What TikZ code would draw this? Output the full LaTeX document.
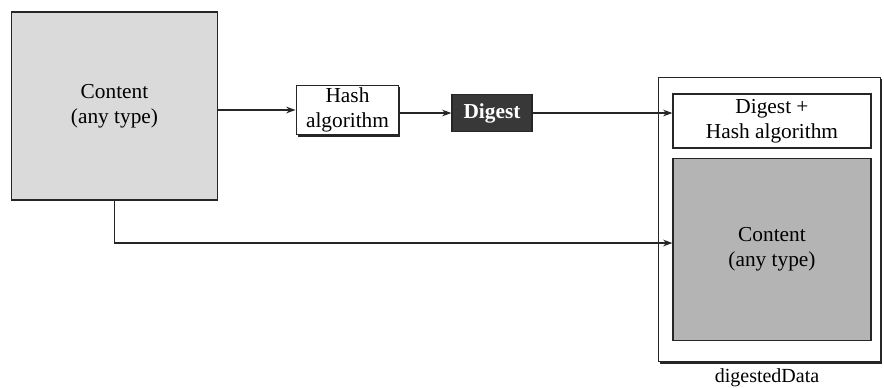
\documentclass[tikz,border=0pt]{standalone}
\usepackage{fontspec}
\setmainfont{Liberation Serif}
\usetikzlibrary{arrows.meta}
\definecolor{lightfill}{HTML}{DADADA}
\definecolor{darkfill}{HTML}{B4B4B4}
\definecolor{digestfill}{HTML}{383838}
\begin{document}
\begin{tikzpicture}[x=0.75pt,y=-0.75pt,
  box/.style={draw=black!85, line width=0.9pt, align=center, inner sep=0pt, font=\fontsize{16}{19}\selectfont},
  conn/.style={draw=black!85, line width=0.9pt, -{Stealth[length=7pt,width=5pt]}},
  shadowed/.style={preaction={fill=black!85, transform canvas={xshift=1.2pt,yshift=-1.5pt}}}]
\useasboundingbox (0,0) rectangle (884,387);
\node[box, fill=lightfill, minimum width=154pt, minimum height=141pt] (content) at (114.5,106) {Content\\(any type)};
\node[box, fill=white, shadowed, minimum width=77pt, minimum height=37pt] (hash) at (347.5,110) {Hash\\algorithm};
\node[box, fill=digestfill, text=white, minimum width=60pt, minimum height=28pt, font=\fontsize{16}{19}\selectfont\bfseries] (digest) at (492,113) {Digest};
\node[box, fill=white, shadowed, minimum width=167pt, minimum height=213.5pt] (outer) at (769.5,219.5) {};
\node[box, fill=white, minimum width=148.5pt, minimum height=40.5pt] (dh) at (772,121) {Digest +\\Hash algorithm};
\node[box, fill=darkfill, minimum width=148.5pt, minimum height=137pt] (cin) at (772,249.5) {Content\\(any type)};
\node[font=\fontsize{15}{18}\selectfont] (lbl) at (767,378) {digestedData};
\draw[conn] (hash.west -| content.east) -- (hash.west);
\draw[conn] (hash.east |- digest.west) -- (digest.west);
\draw[conn] (digest.east) -- (digest.east -| dh.west);
\coordinate (bend) at (content.south |- 0,243);
\draw[conn] (content.south) -- (bend) -- (bend -| cin.west);
\end{tikzpicture}
\end{document}
